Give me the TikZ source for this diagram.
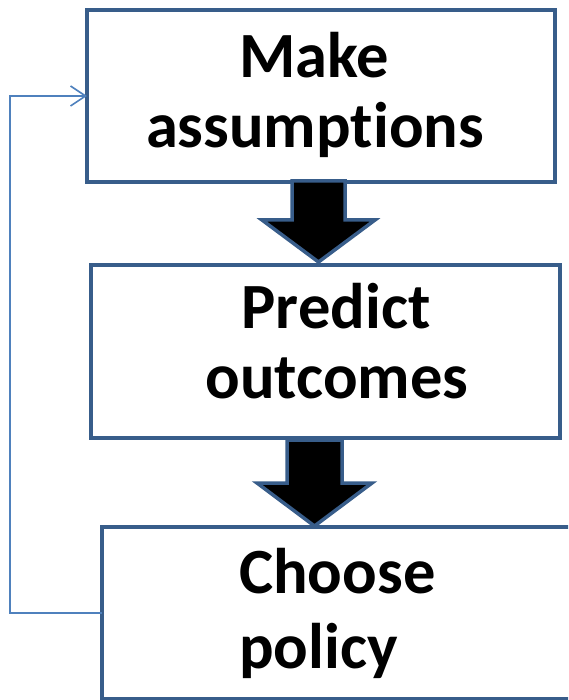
\documentclass[tikz,border=0pt]{standalone}
\usepackage{fontspec}
\setmainfont{Carlito}[Ligatures=NoCommon]
\usetikzlibrary{arrows.meta}
\definecolor{boxblue}{HTML}{385D8A}
\definecolor{linkblue}{HTML}{4F81BD}
\begin{document}
\begin{tikzpicture}[x=1pt,y=-1pt,
  stepbox/.style={draw=boxblue,line width=4.8pt,rectangle,inner sep=0pt,outer sep=0pt,fill=white},
  bigtext/.style={font=\fontsize{64.5}{70}\selectfont\bfseries,inner sep=0pt,anchor=base},
  bigtextc/.style={font=\fontsize{64.5}{70}\selectfont\bfseries,inner sep=0pt,anchor=base west},
  blockarrow/.style={fill=black,draw=boxblue,line width=3.5pt,line join=miter},
  feedback/.style={draw=linkblue,line width=1.6pt,-{Straight Barb[length=15pt,width=20pt,line width=1.6pt]}}]
\useasboundingbox (0,0) rectangle (568,700);
\clip (0,0) rectangle (568,700);
\node[stepbox,minimum width=468pt,minimum height=172pt] (box1) at (321,96) {};
\node[stepbox,minimum width=469pt,minimum height=173pt] (box2) at (325.5,351.5) {};
\node[stepbox,minimum width=540pt,minimum height=172pt] (box3) at (372,613) {};
\node[bigtext] (t1a) at (314,78) {Make};
\node[bigtext] (t1b) at (315,148) {assumptions};
\node[bigtext] (t2a) at (336,328) {Predict};
\node[bigtext] (t2b) at (337,398) {outcomes};
\node[bigtextc] (t3a) at (239,593) {Choose};
\node[bigtextc] (t3b) at (239,668) {policy};
\draw[blockarrow] (292,181) -- (345,181) -- (345,220) -- (375,220) -- (318.5,262) -- (262,220) -- (292,220) -- cycle;
\draw[blockarrow] (287,440) -- (342,440) -- (342,483) -- (372,483) -- (314.5,526) -- (257,483) -- (287,483) -- cycle;
\coordinate (c1) at (10,613);
\coordinate (c2) at (10,96);
\draw[feedback] (box3.west) -- (c1) -- (c2) -- (box1.west);
\end{tikzpicture}
\end{document}
